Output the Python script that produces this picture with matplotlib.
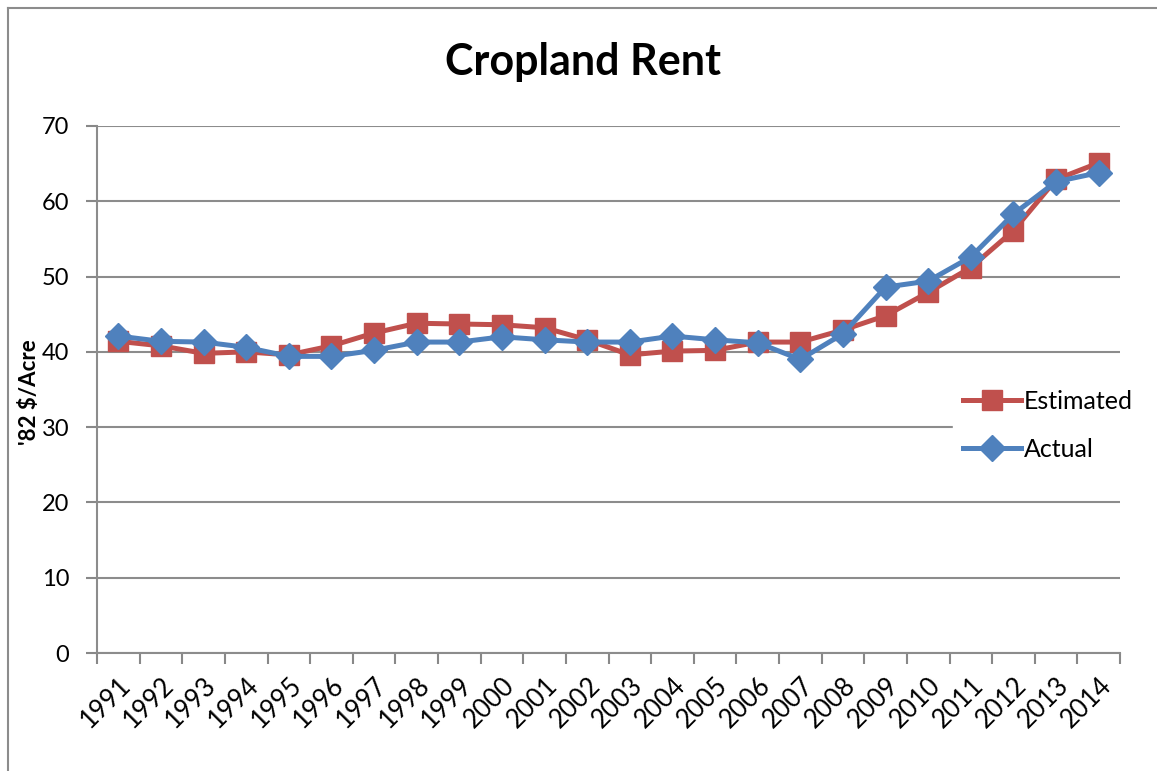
import matplotlib
matplotlib.use("Agg")
import matplotlib.pyplot as plt
from matplotlib.lines import Line2D
import numpy as np

years = [str(y) for y in range(1991, 2015)]
estimated = [41.4, 40.8, 39.8, 40.0, 39.6, 40.8, 42.5, 43.8, 43.7, 43.6, 43.2, 41.6,
             39.6, 40.1, 40.2, 41.3, 41.3, 42.9, 44.8, 47.9, 51.2, 56.1, 62.9, 65.1]
actual = [42.1, 41.4, 41.3, 40.6, 39.4, 39.4, 40.2, 41.3, 41.3, 42.0, 41.6, 41.3,
          41.3, 42.1, 41.6, 41.2, 39.0, 42.4, 48.6, 49.4, 52.6, 58.3, 62.6, 63.8]
yticks = [0, 10, 20, 30, 40, 50, 60, 70]

plt.rcParams['font.family'] = ['Lato', 'DejaVu Sans']

W, H = 1157, 771
fig = plt.figure(figsize=(W / 100, H / 100), dpi=100)
ax = fig.add_axes([97 / W, 1 - 653 / H, (1120 - 97) / W, (653 - 126) / H])

x = np.arange(len(years)) + 0.5
red = '#C0504D'
blue = '#4F81BD'
ax.plot(x, estimated, color=red, lw=3.6, marker='s', ms=14, mec=red, mfc=red,
        label='Estimated', zorder=3)
ax.plot(x, actual, color=blue, lw=3.6, marker='D', ms=13, mec=blue, mfc=blue,
        label='Actual', zorder=4)

ax.set_xlim(0, len(years))
ax.set_ylim(0, 70)
ax.set_yticks(yticks)
ax.set_yticklabels([str(v) for v in yticks], fontsize=17)
ax.set_xticks(np.arange(len(years) + 1))
ax.set_xticklabels([])
ax.set_xticks(x, minor=True)
ax.set_xticklabels(years, minor=True, rotation=45, ha='right', va='top',
                   rotation_mode='anchor', fontsize=18.5)
ax.tick_params(axis='x', which='minor', length=0, pad=14)
ax.tick_params(axis='x', which='major', length=8, width=1.5, color='#888888',
               direction='out')
ax.tick_params(axis='y', length=8, width=1.5, color='#888888', direction='out', pad=12)

ax.grid(axis='y', color='#8c8c8c', lw=1.5)
ax.set_axisbelow(True)
for s in ['top', 'right']:
    ax.spines[s].set_visible(False)
for s in ['left', 'bottom']:
    ax.spines[s].set_color('#8c8c8c')
    ax.spines[s].set_linewidth(1.5)

fig.text(583 / W, 1 - 62 / H, 'Cropland Rent', ha='center', va='center',
         fontsize=31, fontweight='bold')
fig.text(29 / W, 1 - 392 / H, "'82 $/Acre", ha='center', va='center',
         rotation=90, fontsize=16, fontweight='bold')

leg = ax.legend(loc='center left', bbox_to_anchor=(953 / W, 1 - 425 / H),
                bbox_transform=fig.transFigure, frameon=True, fontsize=18,
                handlelength=2.3, handletextpad=0.15, labelspacing=1.0,
                borderpad=0.4, borderaxespad=0)
leg.get_frame().set_edgecolor('white')
leg.get_frame().set_facecolor('white')
leg.get_frame().set_alpha(1)
leg.set_zorder(10)

# outer chart frame (top and left edges visible)
fig.add_artist(Line2D([8 / W, 8 / W], [1 - 8 / H, 0], transform=fig.transFigure,
                      color='#8c8c8c', lw=1.5))
fig.add_artist(Line2D([8 / W, 1], [1 - 8 / H, 1 - 8 / H], transform=fig.transFigure,
                      color='#8c8c8c', lw=1.5))

fig.savefig('out.png', dpi=100)
